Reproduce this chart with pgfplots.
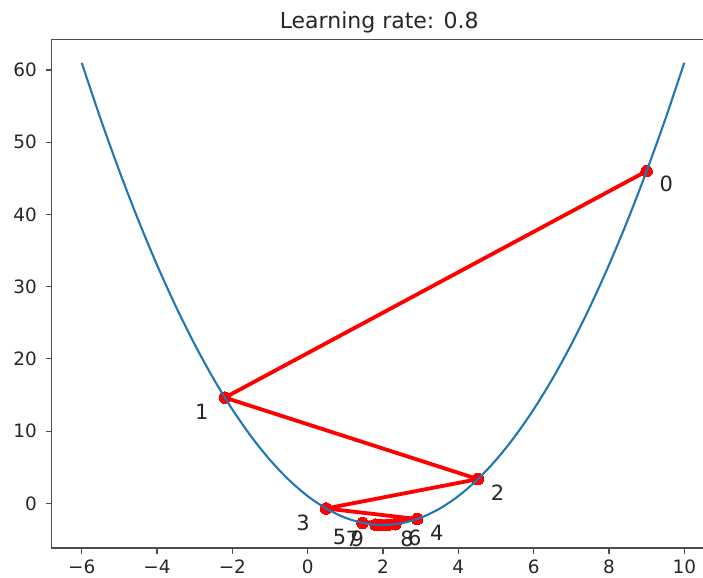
\documentclass[border=0pt]{standalone}
\usepackage{fontspec}
\setmainfont{DejaVu Sans}
\usepackage{pgfplots}
\pgfplotsset{compat=1.18}
\definecolor{mplblue}{HTML}{1F77B4}
\definecolor{spine}{HTML}{4D4D4D}
\definecolor{txt}{HTML}{262626}
\begin{document}
\begin{tikzpicture}
\path[use as bounding box] (-25.8pt,-14.95pt) rectangle (325.7pt,274.05pt);
\begin{axis}[
  at={(0,0)}, anchor=south west,
  scale only axis,
  width=331.4pt, height=254.2pt,
  xmin=-6.8, xmax=10.8, ymin=-6.2, ymax=64.2,
  xtick={-6,-4,-2,0,2,4,6,8,10},
  xticklabels={−6,−4,−2,0,2,4,6,8,10},
  ytick={0,10,20,30,40,50,60},
  yticklabels={0,10,20,30,40,50,60},
  tick align=outside,
  major tick length=2.75pt,
  xtick pos=bottom, ytick pos=left,
  axis line style={spine, line width=0.65pt},
  every tick/.style={spine, line width=0.6pt},
  tick label style={font=\fontsize{9.2}{11}\selectfont, text=txt, inner sep=0pt},
  xticklabel style={anchor=north, yshift=-3pt},
  yticklabel style={anchor=east, xshift=-4.4pt},
  clip mode=individual,
]
% gradient descent path
\addplot[red, line width=1.9pt, line join=round, line cap=round, mark=*, mark size=2.9pt, mark options={solid, fill=red, draw=red, line width=0pt}] coordinates {
(9,46) (-2.2,14.64) (4.52,3.3504) (0.488,-0.7139) (2.9072,-2.17699)
(1.45568,-2.70372) (2.326592,-2.893337) (1.8040448,-2.961602)
(2.11757312,-2.986177) (1.929456128,-2.995024)
};
% parabola
\addplot[mplblue, line width=1.05pt, smooth] coordinates {
(-6,61) (-5.5,53.25) (-5,46) (-4.5,39.25) (-4,33) (-3.5,27.25) (-3,22)
(-2.5,17.25) (-2,13) (-1.5,9.25) (-1,6) (-0.5,3.25) (0,1) (0.5,-0.75)
(1,-2) (1.5,-2.75) (2,-3) (2.5,-2.75) (3,-2) (3.5,-0.75) (4,1) (4.5,3.25)
(5,6) (5.5,9.25) (6,13) (6.5,17.25) (7,22) (7.5,27.25) (8,33) (8.5,39.25)
(9,46) (9.5,53.25) (10,61)
};
\begin{scope}[every node/.style={font=\fontsize{10.5}{12}\selectfont, text=txt, inner sep=0pt, anchor=center}]
\node[xshift=9.8pt, yshift=-6.6pt] at (axis cs:9,46) {0};
\node[xshift=-11.5pt, yshift=-7pt] at (axis cs:-2.2,14.64) {1};
\node[xshift=9.8pt, yshift=-6.8pt] at (axis cs:4.52,3.3504) {2};
\node[xshift=-11.5pt, yshift=-7pt] at (axis cs:0.488,-0.7139) {3};
\node[xshift=9.8pt, yshift=-6.8pt] at (axis cs:2.9072,-2.17699) {4};
\node[xshift=-11.5pt, yshift=-7pt] at (axis cs:1.45568,-2.70372) {5};
\node[xshift=9.8pt, yshift=-6.8pt] at (axis cs:2.326592,-2.893337) {6};
\node[xshift=-11.5pt, yshift=-7pt] at (axis cs:1.8040448,-2.961602) {7};
\node[xshift=9.8pt, yshift=-6.8pt] at (axis cs:2.11757312,-2.986177) {8};
\node[xshift=-11.5pt, yshift=-7pt] at (axis cs:1.929456128,-2.995024) {9};
\end{scope}
\node[anchor=base, inner sep=0pt, font=\fontsize{11}{13}\selectfont, text=txt, yshift=5.6pt] at (axis cs:1.9,64.2) {Learning rate: 0.8};
\end{axis}
\end{tikzpicture}
\end{document}
